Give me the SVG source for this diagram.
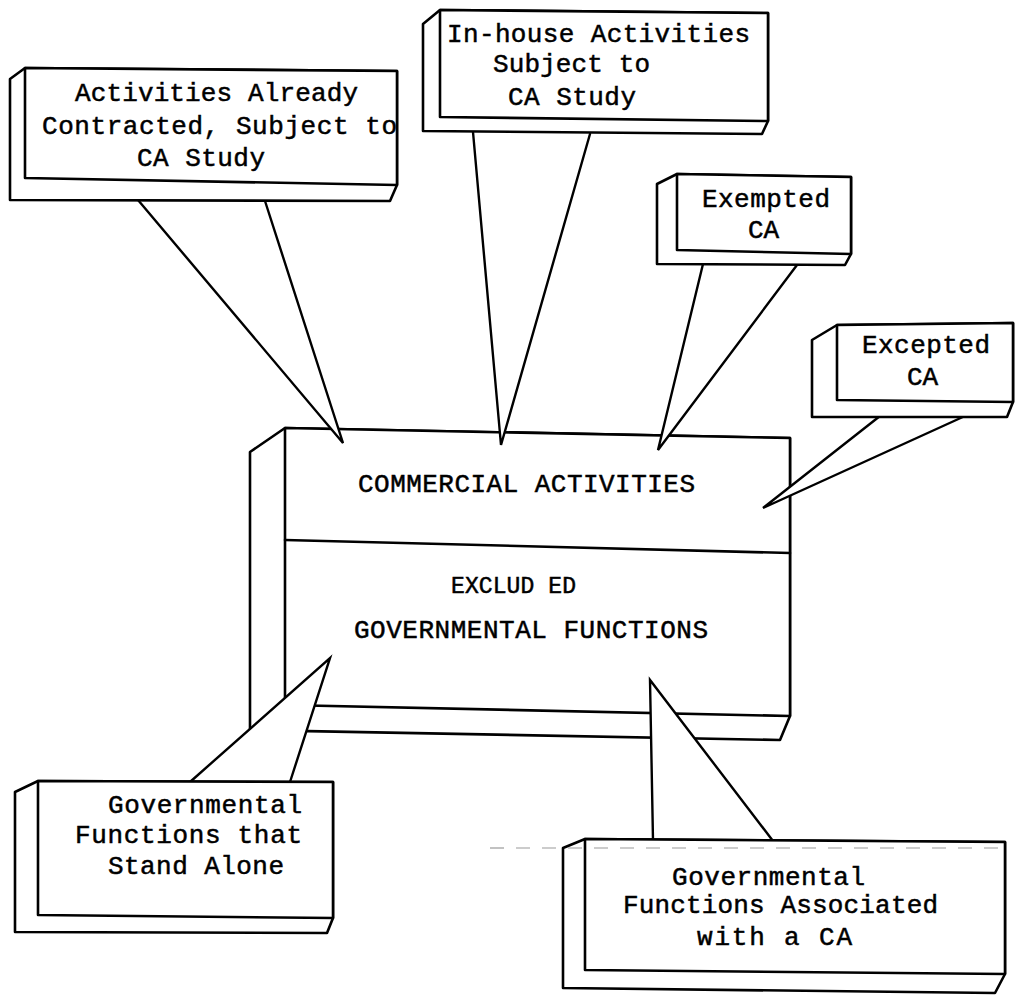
<svg xmlns="http://www.w3.org/2000/svg" width="1016" height="996" viewBox="0 0 1016 996">
<style>
  .sil{fill:#fff;stroke:#000;stroke-width:2.6;stroke-linejoin:round}
  .front{fill:#fff;stroke:#000;stroke-width:2.6;stroke-linejoin:round}
  .ln{fill:none;stroke:#000;stroke-width:2.6;stroke-linecap:round}
  .co{fill:#fff;stroke:#000;stroke-width:2.4;stroke-linejoin:miter;stroke-linecap:round}
  .t{font-family:"Liberation Mono","DejaVu Sans Mono",monospace;font-size:26px;fill:#000;stroke:#000;stroke-width:0.5}
  .s{font-size:23px}
  .scan{fill:none;stroke:#999;stroke-width:1.2;stroke-dasharray:14 12}
</style>
<rect width="1016" height="996" fill="#fff"/>

<g id="central">
  <polygon class="sil" points="250,452 285,428 790,438 790,716 780,740 250,730"/>
  <polygon class="front" points="285,428 790,438 790,716 285,705"/>
  <line class="ln" x1="285" y1="540" x2="790" y2="553"/>
  <text class="t" x="358" y="492" textLength="337" lengthAdjust="spacing">COMMERCIAL ACTIVITIES</text>
  <text class="t s" x="451" y="593" textLength="125" lengthAdjust="spacing">EXCLUD ED</text>
  <text class="t" x="354" y="638" textLength="354" lengthAdjust="spacing">GOVERNMENTAL FUNCTIONS</text>
</g>

<g id="connectors">
  <path class="co" d="M138,200 L343,443 L265,201"/>
  <path class="co" d="M473,132 L501,445 L590,134"/>
  <path class="co" d="M703,264 L658,450 L797,265"/>
  <path class="co" d="M880,416 L763,508 L965,416"/>
  <path class="co" d="M190,782 L330,658 L290,782"/>
  <path class="co" d="M653,840 L650,680 L773,841"/>
</g>

<g id="already-contracted">
  <polygon class="sil" points="10,79 25,68 397,71 397,185 390,201 10,200"/>
  <polygon class="front" points="25,68 397,71 397,185 25,178"/>
  <text class="t" x="75" y="101" textLength="283" lengthAdjust="spacing">Activities Already</text>
  <text class="t" x="42" y="134" textLength="355" lengthAdjust="spacing">Contracted, Subject to</text>
  <text class="t" x="137" y="166" textLength="128" lengthAdjust="spacing">CA Study</text>
</g>

<g id="in-house">
  <polygon class="sil" points="423,24 440,10 768,13 768,121 762,134 423,131"/>
  <polygon class="front" points="440,10 768,13 768,121 440,117"/>
  <text class="t" x="447" y="42" textLength="303" lengthAdjust="spacing">In-house Activities</text>
  <text class="t" x="493" y="72" textLength="157" lengthAdjust="spacing">Subject to</text>
  <text class="t" x="508" y="105" textLength="128" lengthAdjust="spacing">CA Study</text>
</g>

<g id="exempted">
  <polygon class="sil" points="657,184 677,174 851,177 851,254 845,265 657,264"/>
  <polygon class="front" points="677,174 851,177 851,254 677,250"/>
  <text class="t" x="702" y="207" textLength="128" lengthAdjust="spacing">Exempted</text>
  <text class="t" x="748" y="238">CA</text>
</g>

<g id="excepted">
  <polygon class="sil" points="812,340 837,325 1013,323 1013,402 1007,417 812,417"/>
  <polygon class="front" points="837,325 1013,323 1013,402 837,400"/>
  <text class="t" x="862" y="353" textLength="128" lengthAdjust="spacing">Excepted</text>
  <text class="t" x="907" y="385">CA</text>
</g>

<g id="stand-alone">
  <polygon class="sil" points="15,792 38,781 333,782 333,918 327,933 15,932"/>
  <polygon class="front" points="38,781 333,782 333,918 38,915"/>
  <text class="t" x="108" y="813" textLength="194" lengthAdjust="spacing">Governmental</text>
  <text class="t" x="75" y="843" textLength="227" lengthAdjust="spacing">Functions that</text>
  <text class="t" x="108" y="874" textLength="176" lengthAdjust="spacing">Stand Alone</text>
</g>

<g id="associated">
  <polygon class="sil" points="563,848 585,839 1005,842 1005,974 995,993 563,988"/>
  <polygon class="front" points="585,839 1005,842 1005,974 585,970"/>
  <text class="t" x="672" y="885" textLength="193" lengthAdjust="spacing">Governmental</text>
  <text class="t" x="623" y="913" textLength="315" lengthAdjust="spacing">Functions Associated</text>
  <text class="t" x="697" y="945" textLength="155" lengthAdjust="spacing">with a CA</text>
</g>

<line class="scan" x1="490" y1="848" x2="1010" y2="848"/>
</svg>
